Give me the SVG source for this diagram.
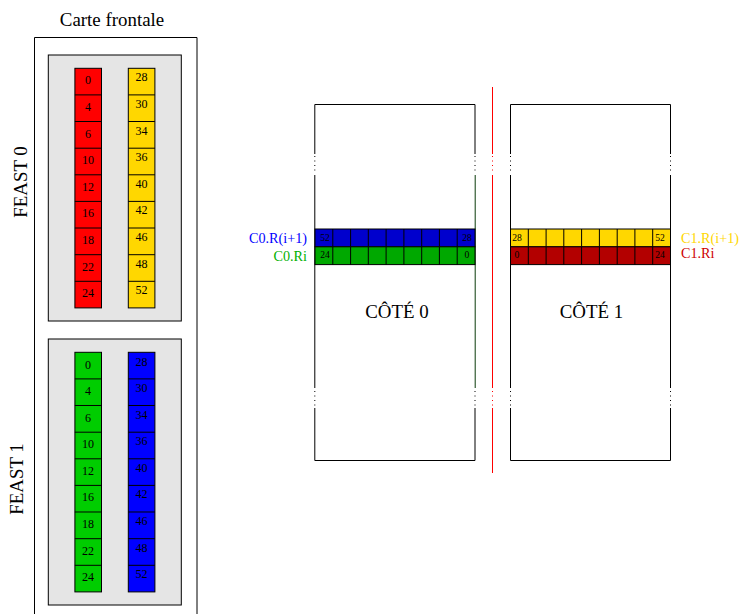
<svg xmlns="http://www.w3.org/2000/svg" width="739" height="614" viewBox="0 0 739 614">
<style>
text{font-family:"Liberation Serif","Times New Roman",serif;fill:#000}
.c{text-anchor:middle;font-size:12px}
.s{text-anchor:middle;font-size:9.6px}
.t{text-anchor:middle;font-size:18.9px}
.lb{text-anchor:end;font-size:14.2px}
.ls{text-anchor:start;font-size:14.2px}
.k{stroke:#000;stroke-width:1}
.box{fill:#fff;stroke:#000;stroke-width:1}
.panel{fill:#e5e5e5;stroke:#000;stroke-width:1}
.red{fill:#ff0000}.yel{fill:#ffd700}.grn{fill:#00cd00}.blu{fill:#0000ff}
.dgrn{fill:#00a800}.dblu{fill:#0000cd}.dred{fill:#b30000}
.w{stroke:#000;stroke-width:1;fill:none}
</style>
<defs>
<g id="col"><rect x="0" y="0" width="26.6" height="239.6" fill="inherit" stroke="#000"/>
<path class="k" d="M0 26.6H26.6M0 53.2H26.6M0 79.9H26.6M0 106.5H26.6M0 133.1H26.6M0 159.7H26.6M0 186.4H26.6M0 213H26.6" fill="none"/></g>
<g id="row"><rect x="0" y="0" width="160" height="17.8" fill="inherit" stroke="#000"/>
<path class="k" d="M17.8 0V17.8M35.6 0V17.8M53.3 0V17.8M71.1 0V17.8M88.9 0V17.8M106.7 0V17.8M124.4 0V17.8M142.2 0V17.8" fill="none"/></g>
</defs>

<g id="carte-frontale">
<text class="t" x="112" y="26">Carte frontale</text>
<path class="box" d="M34.5 620V37.5H197V620"/>
</g>

<g id="feast-0">
<rect class="panel" x="48.3" y="55" width="133" height="266"/>
<text class="t" transform="translate(26.5,182) rotate(-90)">FEAST 0</text>
<use href="#col" x="74.9" y="68.3" class="red"/>
<use href="#col" x="128.3" y="68.3" class="yel"/>
<g>
<text class="c" x="88" y="84">0</text><text class="c" x="88" y="111">4</text><text class="c" x="88" y="138">6</text><text class="c" x="88" y="164">10</text><text class="c" x="88" y="191">12</text><text class="c" x="88" y="217">16</text><text class="c" x="88" y="244">18</text><text class="c" x="88" y="271">22</text><text class="c" x="88" y="297">24</text>
<text class="c" x="141.5" y="81">28</text><text class="c" x="141.5" y="108">30</text><text class="c" x="141.5" y="135">34</text><text class="c" x="141.5" y="161">36</text><text class="c" x="141.5" y="188">40</text><text class="c" x="141.5" y="214">42</text><text class="c" x="141.5" y="241">46</text><text class="c" x="141.5" y="268">48</text><text class="c" x="141.5" y="294">52</text>
</g>
</g>

<g id="feast-1">
<rect class="panel" x="48.3" y="339" width="133" height="266"/>
<text class="t" transform="translate(22.5,479) rotate(-90)">FEAST 1</text>
<use href="#col" x="74.9" y="352.3" class="grn"/>
<use href="#col" x="128.3" y="352.3" class="blu"/>
<g>
<text class="c" x="88" y="369">0</text><text class="c" x="88" y="395">4</text><text class="c" x="88" y="422">6</text><text class="c" x="88" y="448">10</text><text class="c" x="88" y="475">12</text><text class="c" x="88" y="501">16</text><text class="c" x="88" y="528">18</text><text class="c" x="88" y="555">22</text><text class="c" x="88" y="581">24</text>
<text class="c" x="141.5" y="366">28</text><text class="c" x="141.5" y="392">30</text><text class="c" x="141.5" y="419">34</text><text class="c" x="141.5" y="445">36</text><text class="c" x="141.5" y="472">40</text><text class="c" x="141.5" y="498">42</text><text class="c" x="141.5" y="525">46</text><text class="c" x="141.5" y="552">48</text><text class="c" x="141.5" y="578">52</text>
</g>
</g>

<g id="cote-0">
<path class="w" d="M314.800 154V104.5H475V154M314.800 175V388M314.800 408V460.500H475V408"/>
<path d="M475.200 175V388" fill="none" stroke="#0a3a0a" stroke-width="1"/>
<path class="w" d="M314.800 156V173M475 156V173M314.800 391V407M475 391V407" style="stroke-dasharray:1 3.5"/>
<use href="#row" x="315" y="229" class="dblu"/>
<use href="#row" x="315" y="246.800" class="dgrn"/>
<text class="s" x="325" y="240.500">52</text><text class="s" x="467" y="240.500">28</text>
<text class="s" x="325" y="258">24</text><text class="s" x="467" y="258">0</text>
<text class="t" x="397" y="318">CÔTÉ 0</text>
<text class="lb" x="307" y="243" style="fill:#0000ff">C0.R(i+1)</text>
<text class="lb" x="307" y="261" style="fill:#00b000">C0.Ri</text>
</g>

<g id="cote-1">
<path class="w" d="M510.500 154V104.5H670.500V154M510.500 175V388M670.500 175V388M510.500 408V460.500H670.500V408"/>
<path class="w" d="M510.500 156V173M670.500 156V173M510.500 391V407M670.500 391V407" style="stroke-dasharray:1 3.5"/>
<use href="#row" x="510.500" y="229" class="yel"/>
<use href="#row" x="510.500" y="246.800" class="dred"/>
<text class="s" x="517" y="240.500">28</text><text class="s" x="660" y="240.500">52</text>
<text class="s" x="517" y="258">0</text><text class="s" x="660" y="258">24</text>
<text class="t" x="591.500" y="318">CÔTÉ 1</text>
<text class="ls" x="681" y="243" style="fill:#ffd700">C1.R(i+1)</text>
<text class="ls" x="681" y="258" style="fill:#cd0000">C1.Ri</text>
</g>

<g id="connectors">
<path d="M492.500 87V154M492.500 175V388M492.500 408V473" fill="none" stroke="#ff0000" stroke-width="1"/>
<path d="M492.500 156V173M492.500 391V407" fill="none" stroke="#ff0000" stroke-width="1" stroke-dasharray="1 3.5"/>
</g>
</svg>
